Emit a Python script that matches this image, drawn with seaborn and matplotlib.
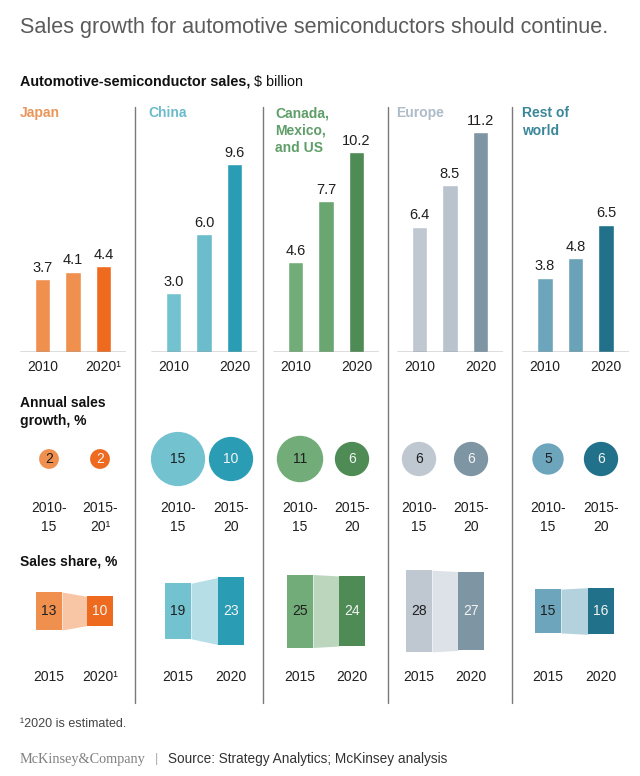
import matplotlib
matplotlib.use("Agg")
import matplotlib.pyplot as plt
import pandas as pd
import seaborn as sns

sns.set_theme(style="white")
plt.rcParams["font.family"] = ["Liberation Sans", "DejaVu Sans"]

# ---- data ----
regions = ["Japan", "China", "Canada,\nMexico,\nand US", "Europe", "Rest of\nworld"]
years = ["2010", "2015", "2020"]
sales_japan = [3.7, 4.1, 4.4]
sales_china = [3.0, 6.0, 9.6]
sales_nafta = [4.6, 7.7, 10.2]
sales_europe = [6.4, 8.5, 11.2]
sales_rest = [3.8, 4.8, 6.5]
growth_2010_15 = [2, 15, 11, 6, 5]
growth_2015_20 = [2, 10, 6, 6, 6]
share_2015 = [13, 19, 25, 28, 15]
share_2020 = [10, 23, 24, 27, 16]
footnoted = [True, False, False, False, False]

sales = [sales_japan, sales_china, sales_nafta, sales_europe, sales_rest]

# ---- styling ----
label_colors = ["#E9965A", "#6BBBCB", "#5F9E68", "#AEBBC8", "#3A8799"]
bar_colors = [
    ["#F0904F", "#F0904F", "#EE6A1E"],
    ["#73C2D0", "#6CBDCC", "#2A9DB5"],
    ["#72AC78", "#6AA670", "#4E8B55"],
    ["#BFC7D1", "#B8C3CE", "#7E96A4"],
    ["#6DA6BC", "#6AA2B8", "#21718A"],
]
conn_colors = ["#F8C6A4", "#B6DEE6", "#BCD6BE", "#DCE2E8", "#B3D2DD"]
dark_txt = "#1f1f1f"
light_txt = "#F4F4F4"

W, H = 640, 776
fig = plt.figure(figsize=(W / 100, H / 100), dpi=100)
fig.patch.set_facecolor("white")
cv = fig.add_axes([0, 0, 1, 1])
cv.set_xlim(0, W)
cv.set_ylim(H, 0)
cv.axis("off")

sep_x = [135, 263, 388, 512]
label_x = [20, 148, 275, 396, 522]
mid_bar = [73, 204, 326, 450, 575.5]
pair_x = [(49, 100), (178, 231), (300, 352), (419, 471), (548, 601)]

# title and section heads
cv.text(20, 28, "Sales growth for automotive semiconductors should continue.",
        fontsize=15.6, color="#5b5b5b", va="center", ha="left")
sub = cv.text(20, 82, "Automotive-semiconductor sales,", fontsize=10.4, fontweight="bold",
              color="#111111", va="center", ha="left")
fig.canvas.draw()
bb = sub.get_window_extent()
x_end = bb.x1 * W / fig.bbox.width
cv.text(x_end + 4, 82, "$ billion", fontsize=10.4, color="#111111", va="center", ha="left")

cv.text(20, 412, "Annual sales\ngrowth, %", fontsize=10, fontweight="bold", color="#111111",
        va="center", ha="left", linespacing=1.45)
cv.text(20, 562, "Sales share, %", fontsize=10, fontweight="bold", color="#111111",
        va="center", ha="left")

for x in sep_x:
    cv.plot([x, x], [107, 703], color="#7a7a7a", lw=1)

for i, name in enumerate(regions):
    cv.text(label_x[i], 106, name, fontsize=10, fontweight="bold", color=label_colors[i],
            va="top", ha="left", linespacing=1.32)

# ---- sales bars ----
step = 30.5
px_per_unit = 19.6
base_y, top_y = 352, 120
for i, vals in enumerate(sales):
    left = mid_bar[i] - 1.74 * step
    bax = fig.add_axes([left / W, 1 - base_y / H, 3.48 * step / W, (base_y - top_y) / H])
    df = pd.DataFrame({"year": years, "sales": vals})
    sns.barplot(data=df, x="year", y="sales", hue="year", palette=bar_colors[i],
                width=0.52, saturation=1, legend=False, ax=bax)
    for c in bax.containers:
        bax.bar_label(c, fmt="%.1f", padding=3, fontsize=10.5, color="#1f1f1f")
    bax.set_xlim(-0.74, 2.74)
    bax.set_ylim(0, (base_y - top_y) / px_per_unit)
    bax.axhline(0, color="#555555", lw=1)
    last = "2020\u00b9" if footnoted[i] else "2020"
    bax.set_xticks([0, 1, 2], ["2010", "", last])
    bax.set_yticks([])
    bax.tick_params(axis="x", length=0, pad=6, labelsize=10, labelcolor="#1f1f1f")
    bax.set_xlabel("")
    bax.set_ylabel("")
    bax.patch.set_alpha(0)
    sns.despine(ax=bax, left=True, bottom=True)

# ---- annual growth circles ----
rows = []
for i in range(len(regions)):
    rows.append({"x": pair_x[i][0], "y": 459, "growth": growth_2010_15[i], "key": f"{i}a"})
    rows.append({"x": pair_x[i][1], "y": 459, "growth": growth_2015_20[i], "key": f"{i}b"})
gdf = pd.DataFrame(rows)
pal = {}
for i in range(len(regions)):
    pal[f"{i}a"] = bar_colors[i][0]
    pal[f"{i}b"] = bar_colors[i][2]
# marker area proportional to growth value
sns.scatterplot(data=gdf, x="x", y="y", hue="key", palette=pal, size="growth",
                size_norm=(0, 15), sizes=(0, 101.6 * 15), linewidth=0, legend=False, ax=cv)
cv.set_xlim(0, W)
cv.set_ylim(H, 0)
cv.axis("off")
for _, r in gdf.iterrows():
    col = dark_txt if r["key"].endswith("a") else light_txt
    cv.text(r["x"], r["y"], f"{r['growth']}", fontsize=10, color=col, ha="center", va="center")

for i in range(len(regions)):
    xa, xb = pair_x[i]
    cv.text(xa, 508, "2010-", fontsize=10, color="#1f1f1f", ha="center", va="center")
    cv.text(xa, 527, "15", fontsize=10, color="#1f1f1f", ha="center", va="center")
    cv.text(xb, 508, "2015-", fontsize=10, color="#1f1f1f", ha="center", va="center")
    cv.text(xb, 527, "20\u00b9" if footnoted[i] else "20", fontsize=10, color="#1f1f1f",
            ha="center", va="center")

# ---- sales share boxes ----
share_px = 2.92
cy = 611
bw = 26
for i in range(len(regions)):
    xa, xb = pair_x[i]
    ha_ = share_2015[i] * share_px
    hb_ = share_2020[i] * share_px
    cv.fill_between([xa + bw / 2, xb - bw / 2], [cy - ha_ / 2, cy - hb_ / 2],
                    [cy + ha_ / 2, cy + hb_ / 2], color=conn_colors[i], lw=0)
    cv.bar([xa, xb], [ha_, hb_], bottom=[cy - ha_ / 2, cy - hb_ / 2], width=bw,
           color=[bar_colors[i][0], bar_colors[i][2]], lw=0)
    cv.text(xa, cy, f"{share_2015[i]}", fontsize=10, color=dark_txt, ha="center", va="center")
    cv.text(xb, cy, f"{share_2020[i]}", fontsize=10, color=light_txt, ha="center", va="center")
    cv.text(xa, 677, "2015", fontsize=10, color="#1f1f1f", ha="center", va="center")
    cv.text(xb, 677, "2020\u00b9" if footnoted[i] else "2020", fontsize=10, color="#1f1f1f",
            ha="center", va="center")

# ---- footer ----
cv.text(20, 724, "\u00b92020 is estimated.", fontsize=9, color="#444444", ha="left", va="center")
cv.text(20, 759, "McKinsey&Company", fontsize=10.3, color="#808080", ha="left", va="center",
        family=["Liberation Serif", "DejaVu Serif"])
cv.text(156, 759, "|", fontsize=9, color="#aaaaaa", ha="center", va="center")
cv.text(168, 759, "Source: Strategy Analytics; McKinsey analysis", fontsize=9.8, color="#333333",
        ha="left", va="center")

fig.savefig("out.png", dpi=100, facecolor="white")
